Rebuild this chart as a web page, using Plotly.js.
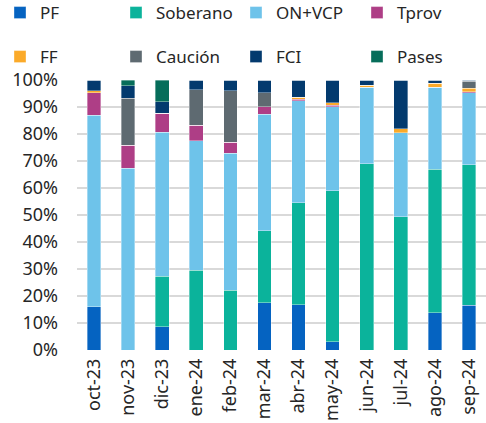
<!DOCTYPE html>
<html>
<head>
<meta charset="utf-8">
<script src="https://cdn.plot.ly/plotly-3.0.1.min.js"></script>
<style>html,body{margin:0;padding:0;background:#fff;}#chart{width:486px;height:423px;}</style>
</head>
<body>
<div id="chart"></div>
<script>
const categories = ["oct-23","nov-23","dic-23","ene-24","feb-24","mar-24","abr-24","may-24","jun-24","jul-24","ago-24","sep-24"];
const PF       = [16.0, 0,    8.6,  0,    0,    17.5, 16.7, 3.1,  0,    0,    13.8, 16.5];
const Soberano = [0,    0,    18.8, 29.6, 22.2, 26.7, 37.9, 55.9, 68.9, 49.4, 53.1, 52.1];
const ONVCP    = [71.0, 67.4, 53.2, 47.9, 50.6, 43.1, 37.7, 31.1, 28.4, 31.1, 30.4, 26.7];
const Tprov    = [8.3,  8.4,  7.0,  5.7,  4.1,  2.8,  0.6,  0.5,  0,    0,    0,    0.3];
const FF       = [0.7,  0,    0,    0,    0,    0,    0.8,  0.9,  0.8,  1.4,  1.5,  1.3];
const Caucion  = [0,    17.4, 0,    13.1, 19.1, 5.2,  0,    0,    0,    0,    0,    2.7];
const FCI      = [4.0,  4.7,  4.4,  3.7,  4.0,  4.7,  6.2,  8.5,  1.9,  18.1, 1.2,  0.4];
const Pases    = [0,    2.1,  8.0,  0,    0,    0,    0,    0,    0,    0,    0,    0];

const series = [
  {name:"PF", y:PF, color:"#0563C1"},
  {name:"Soberano", y:Soberano, color:"#0BB39B"},
  {name:"ON+VCP", y:ONVCP, color:"#6EC3EA"},
  {name:"Tprov", y:Tprov, color:"#AE3E86"},
  {name:"FF", y:FF, color:"#FBAA29"},
  {name:"Caución", y:Caucion, color:"#5E6A71"},
  {name:"FCI", y:FCI, color:"#033A6E"},
  {name:"Pases", y:Pases, color:"#066D5A"}
];

const W = 486, H = 423, ML = 77, MR = 0, MT = 80, MB = 73;
const fontFam = '"Noto Sans", "Open Sans", sans-serif';

// legend item positions in pixels (item origin x, row centre y)
const colX = [-5, 116, 236, 357];
const rowY = [13, 57];

const layout = {
  width:W, height:H,
  margin:{l:ML, r:MR, t:MT, b:MB, autoexpand:false},
  barmode:"stack", bargap:0.6,
  paper_bgcolor:"#fff", plot_bgcolor:"#fff",
  font:{family:fontFam, size:17, color:"#262626"},
  showlegend:true,
  xaxis:{tickangle:-90, showgrid:false, zeroline:false, showline:false, ticks:"",
         ticklabelstandoff:4,
         tickfont:{family:fontFam, size:18, color:"#262626"}, fixedrange:true},
  yaxis:{range:[0,1], dtick:0.1, tickformat:".0%", showgrid:true, gridcolor:"#D9D9D9", gridwidth:1.5,
         zeroline:false, showline:false, ticks:"", ticklabelstandoff:18,
         tickfont:{family:fontFam, size:18, color:"#262626"}, fixedrange:true}
};

const traces = series.map((s, i) => {
  const key = i === 0 ? "legend" : "legend" + (i + 1);
  const px = colX[i % 4];
  const py = rowY[Math.floor(i / 4)];
  layout[key] = {
    orientation:"h", xref:"container", yref:"container",
    xanchor:"left", yanchor:"middle",
    x:Math.max(0, px) / W, y:1 - py / H,
    itemwidth:30, bgcolor:"rgba(0,0,0,0)", borderwidth:0,
    font:{family:fontFam, size:17, color:"#262626"}
  };
  return {
    type:"bar", name:s.name, x:categories, y:s.y.map(v => v / 100),
    marker:{color:s.color, line:{color:"rgba(255,255,255,0.6)", width:0.6}},
    legend:key, hoverinfo:"name+y"
  };
});

Plotly.newPlot("chart", traces, layout, {displayModeBar:false, staticPlot:true});
</script>
</body>
</html>
